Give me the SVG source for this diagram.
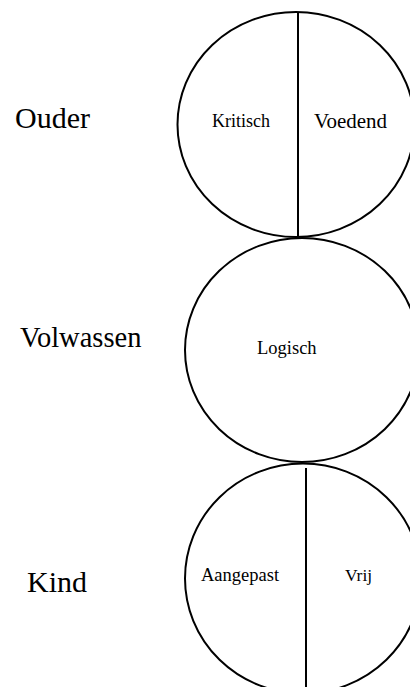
<svg xmlns="http://www.w3.org/2000/svg" width="410" height="687" viewBox="0 0 410 687">
  <style>
    .ring { fill: none; stroke: #000; stroke-width: 2; }
    .split { stroke: #000; stroke-width: 2; }
    .lbl { font-family: "Liberation Serif", "Times New Roman", serif; fill: #000; }
  </style>
  <rect width="410" height="687" fill="#fff"/>

  <g id="ouder">
    <text class="lbl" x="15" y="128" font-size="30">Ouder</text>
    <ellipse class="ring" cx="296" cy="124.5" rx="118.5" ry="112.5"/>
    <line class="split" x1="298" y1="12" x2="298" y2="237"/>
    <text class="lbl" x="212" y="127" font-size="18">Kritisch</text>
    <text class="lbl" x="314" y="128" font-size="21">Voedend</text>
  </g>

  <g id="volwassen">
    <text class="lbl" x="20" y="347" font-size="28.5">Volwassen</text>
    <ellipse class="ring" cx="302" cy="350" rx="117" ry="112"/>
    <text class="lbl" x="257" y="354" font-size="18.5">Logisch</text>
  </g>

  <g id="kind">
    <text class="lbl" x="27" y="592" font-size="30">Kind</text>
    <ellipse class="ring" cx="303" cy="578.5" rx="118" ry="115"/>
    <line class="split" x1="306" y1="468" x2="306" y2="687"/>
    <text class="lbl" x="201" y="581" font-size="18.5">Aangepast</text>
    <text class="lbl" x="345" y="581" font-size="17.5">Vrij</text>
  </g>
</svg>
